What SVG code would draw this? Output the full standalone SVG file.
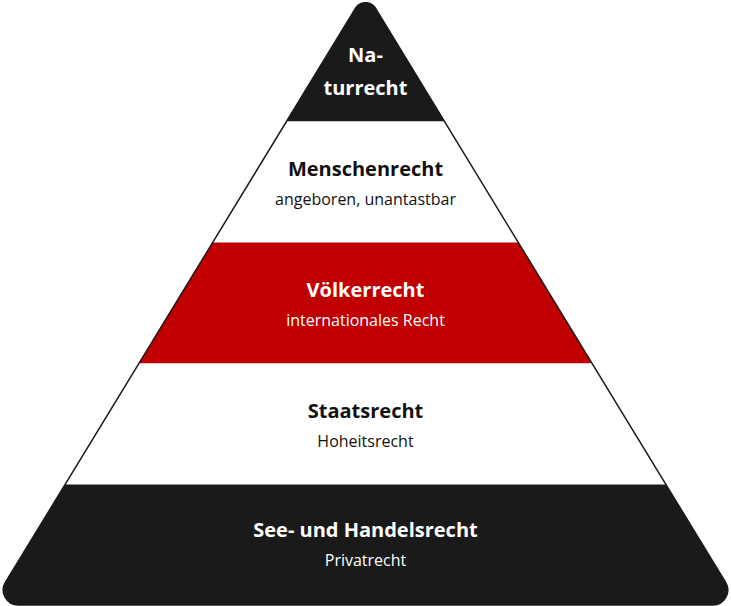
<svg xmlns="http://www.w3.org/2000/svg" width="731" height="606" viewBox="0 0 731 606">
<style>
.t{font-family:"Open Sans","Liberation Sans",sans-serif;font-weight:700;font-size:20px;text-anchor:middle}
.s{font-family:"Open Sans","Liberation Sans",sans-serif;font-weight:400;font-size:16px;text-anchor:middle}
.w{fill:#ffffff}
.k{fill:#111111}
</style>
<defs>
<path id="tri" d="M18.3,605 L712.7,605 A15,15 0 0 0 725.5,582.2 L375,7.5 A12,12 0 0 0 356,7.5 L5.5,582.2 A15,15 0 0 0 18.3,605 Z"/>
<clipPath id="clip"><use href="#tri"/></clipPath>
</defs>
<rect width="731" height="606" fill="#ffffff"/>
<g clip-path="url(#clip)">
<g id="layer1"><rect x="0" y="-10" width="731" height="131.5" fill="#1a1a1a"/></g>
<g id="layer2"><rect x="0" y="121.5" width="731" height="121" fill="#ffffff"/></g>
<g id="layer3"><rect x="0" y="242.5" width="731" height="121" fill="#c00000"/></g>
<g id="layer4"><rect x="0" y="363.5" width="731" height="121" fill="#ffffff"/></g>
<g id="layer5"><rect x="0" y="484.5" width="731" height="125" fill="#1a1a1a"/></g>
</g>
<use href="#tri" fill="none" stroke="#1a1a1a" stroke-width="1.5"/>
<g id="naturrecht">
<text class="t w" x="365.5" y="62">Na-</text>
<text class="t w" x="365.5" y="95">turrecht</text>
</g>
<g id="menschenrecht">
<text class="t k" x="365.5" y="176">Menschenrecht</text>
<text class="s k" x="365.5" y="205">angeboren, unantastbar</text>
</g>
<g id="voelkerrecht">
<text class="t w" x="365.5" y="297">Völkerrecht</text>
<text class="s w" x="365.5" y="326">internationales Recht</text>
</g>
<g id="staatsrecht">
<text class="t k" x="365.5" y="418">Staatsrecht</text>
<text class="s k" x="365.5" y="447">Hoheitsrecht</text>
</g>
<g id="seerecht">
<text class="t w" x="365.5" y="537">See- und Handelsrecht</text>
<text class="s w" x="365.5" y="566">Privatrecht</text>
</g>
</svg>
